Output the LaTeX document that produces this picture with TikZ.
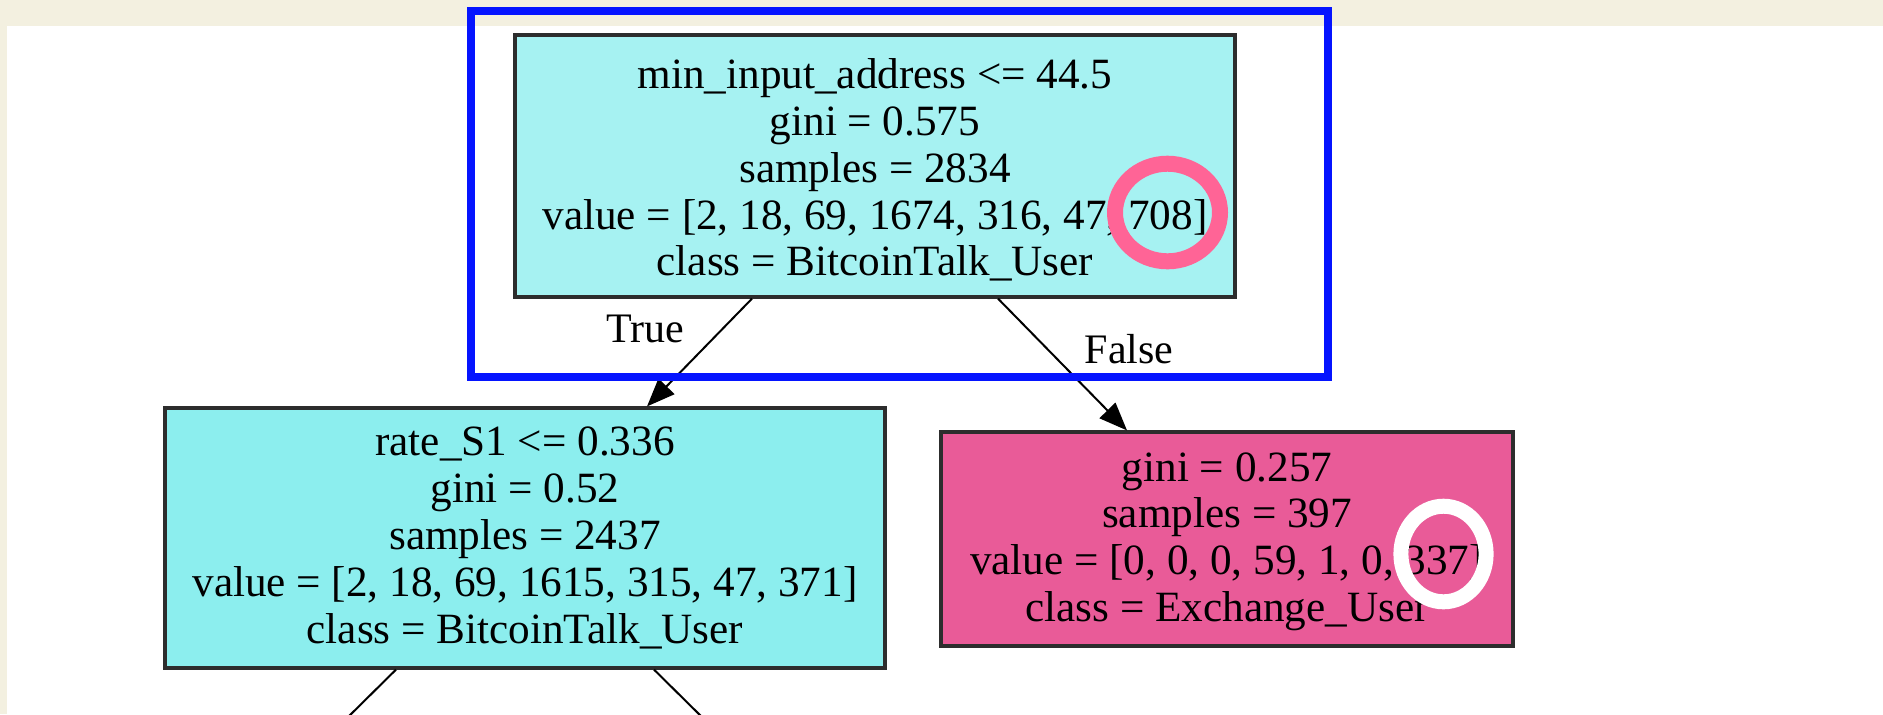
\documentclass[tikz,border=0pt]{standalone}
\usepackage{fontspec}
\setmainfont{Liberation Serif}
\usetikzlibrary{arrows.meta}

\definecolor{pagebeige}{RGB}{243,240,224}
\definecolor{rootcyan}{RGB}{166,242,242}
\definecolor{leftcyan}{RGB}{140,238,238}
\definecolor{leafpink}{RGB}{233,91,152}
\definecolor{framblue}{RGB}{5,20,255}
\definecolor{ringpink}{RGB}{255,100,150}
\definecolor{boxborder}{RGB}{45,45,45}

\tikzset{
  treebox/.style={draw=boxborder, line width=1.6pt, rectangle, align=center,
    inner sep=0pt, font=\fontsize{21.6pt}{23.4pt}\selectfont},
  edgelabel/.style={anchor=base, inner sep=0pt, font=\fontsize{21pt}{23.5pt}\selectfont},
  treeedge/.style={line width=1pt, -{Triangle[length=14pt,width=11pt]}},
  openedge/.style={line width=1pt},
  ring/.style={line width=8pt},
  highlight/.style={draw=framblue, line width=4pt}
}

\begin{document}
\begin{tikzpicture}[x=0.5pt, y=-0.5pt]
  % page canvas
  \useasboundingbox (0,0) rectangle (1883,714);
  \fill[pagebeige] (0,0) rectangle (1883,714);
  \fill[white] (7,26) rectangle (1883,714);

  % decision tree nodes (a strut on the first line nudges the text block down)
  \node[treebox, fill=rootcyan, minimum width=360pt, minimum height=131pt] (root) at (875,166)
    {\rule{0pt}{19pt}min\_input\_address <= 44.5\\ gini = 0.575\\ samples = 2834\\
     value = [2, 18, 69, 1674, 316, 47, 708]\\ class = BitcoinTalk\_User};
  \node[treebox, fill=leftcyan, minimum width=360pt, minimum height=130pt] (left) at (525,538)
    {rate\_S1 <= 0.336\\ gini = 0.52\\ samples = 2437\\
     value = [2, 18, 69, 1615, 315, 47, 371]\\ class = BitcoinTalk\_User};
  \node[treebox, fill=leafpink, minimum width=286pt, minimum height=107pt] (right) at (1227,539)
    {\rule{0pt}{17pt}gini = 0.257\\ samples = 397\\ value = [0, 0, 0, 59, 1, 0, 337]\\ class = Exchange\_User};

  % branch labels
  \node[edgelabel] (truelbl) at (645,342) {True};
  \node[edgelabel] (falselbl) at (1129,363) {False};

  % branches
  \draw[treeedge] ([xshift=-61.5pt]root.south) -- ([xshift=61pt]left.north);
  \draw[treeedge] ([xshift=61.5pt]root.south) -- ([xshift=-50pt]right.north);

  % branches continuing below the left split
  \coordinate (downL) at (342,723);
  \coordinate (downR) at (708,723);
  \draw[openedge] ([xshift=-64.5pt]left.south) -- (downL);
  \draw[openedge] ([xshift=64.5pt]left.south) -- (downR);

  % emphasis marks
  \draw[highlight] (470.5,11) rectangle (1328,377);
  \draw[ring, ringpink] (1167.5,212.5) ellipse [x radius=26.25pt, y radius=24.4pt];
  \draw[ring, white, line width=7.5pt] (1443.5,554) ellipse [x radius=21.3pt, y radius=23.9pt];
\end{tikzpicture}
\end{document}
